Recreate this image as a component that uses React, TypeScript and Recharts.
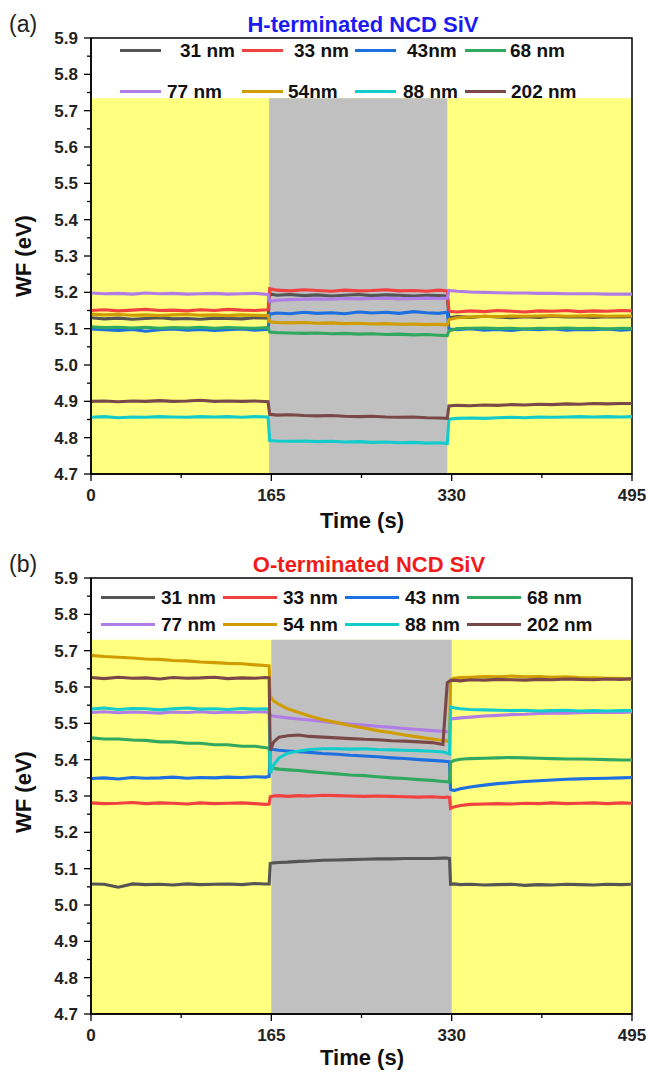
import React from 'react';
import { LineChart, Line, XAxis, YAxis, ReferenceArea } from 'recharts';

const FONT = '"Liberation Sans", Arial, Helvetica, sans-serif';

// ---------- shared axis values ----------
const xTicks = [0, 82.5, 165, 247.5, 330, 412.5, 495];
const yTicks = [4.7, 4.75, 4.8, 4.85, 4.9, 4.95, 5.0, 5.05, 5.1, 5.15, 5.2, 5.25, 5.3, 5.35, 5.4, 5.45, 5.5, 5.55, 5.6, 5.65, 5.7, 5.75, 5.8, 5.85, 5.9];
const seriesColors = ['#555555', '#f04040', '#1e6fe0', '#30a860', '#b07ce6', '#d09c00', '#12cccc', '#7a4848'];

// ---------- panel (a): H-terminated ----------
const hNames = ['31 nm', '33 nm', '43nm', '68 nm', '77 nm', '54nm', '88 nm', '202 nm'];
const hTime = [0, 12, 25, 38, 50, 63, 75, 88, 100, 113, 125, 138, 150, 162,
  163.5, 170, 182, 195, 207, 220, 232, 245, 257, 270, 282, 295, 307, 318, 326,
  327.5, 335, 347, 360, 372, 385, 397, 410, 422, 435, 447, 460, 472, 485, 495];
const h31 = [5.130, 5.127, 5.129, 5.126, 5.128, 5.130, 5.127, 5.128, 5.126, 5.129, 5.128, 5.127, 5.130, 5.129,
  5.196, 5.192, 5.194, 5.191, 5.193, 5.190, 5.192, 5.194, 5.191, 5.193, 5.192, 5.190, 5.192, 5.191, 5.190,
  5.130, 5.133, 5.131, 5.134, 5.132, 5.130, 5.133, 5.131, 5.134, 5.132, 5.133, 5.131, 5.133, 5.132, 5.133];
const h33 = [5.150, 5.152, 5.149, 5.151, 5.153, 5.150, 5.151, 5.149, 5.152, 5.150, 5.153, 5.151, 5.150, 5.152,
  5.210, 5.206, 5.204, 5.207, 5.205, 5.203, 5.206, 5.204, 5.205, 5.207, 5.204, 5.205, 5.203, 5.206, 5.204,
  5.148, 5.146, 5.149, 5.147, 5.150, 5.148, 5.146, 5.149, 5.148, 5.150, 5.147, 5.149, 5.148, 5.150, 5.149];
const h43 = [5.099, 5.097, 5.095, 5.098, 5.093, 5.097, 5.099, 5.096, 5.098, 5.095, 5.097, 5.099, 5.096, 5.098,
  5.140, 5.143, 5.141, 5.145, 5.142, 5.144, 5.141, 5.146, 5.143, 5.145, 5.142, 5.147, 5.144, 5.142, 5.145,
  5.099, 5.097, 5.100, 5.096, 5.098, 5.095, 5.099, 5.097, 5.100, 5.096, 5.098, 5.097, 5.099, 5.096, 5.098];
const h68 = [5.105, 5.103, 5.104, 5.102, 5.104, 5.101, 5.103, 5.102, 5.104, 5.101, 5.103, 5.102, 5.101, 5.103,
  5.091, 5.089, 5.088, 5.087, 5.088, 5.086, 5.087, 5.085, 5.086, 5.084, 5.085, 5.083, 5.084, 5.082, 5.081,
  5.094, 5.100, 5.101, 5.102, 5.100, 5.101, 5.099, 5.101, 5.100, 5.102, 5.100, 5.101, 5.099, 5.101, 5.100];
const h77 = [5.198, 5.196, 5.197, 5.195, 5.198, 5.196, 5.197, 5.195, 5.196, 5.197, 5.195, 5.196, 5.197, 5.194,
  5.175, 5.178, 5.180, 5.181, 5.182, 5.181, 5.183, 5.182, 5.183, 5.184, 5.182, 5.183, 5.184, 5.183, 5.184,
  5.205, 5.203, 5.201, 5.200, 5.199, 5.198, 5.198, 5.197, 5.197, 5.196, 5.196, 5.196, 5.195, 5.195, 5.195];
const h54 = [5.140, 5.138, 5.139, 5.137, 5.138, 5.136, 5.138, 5.139, 5.137, 5.138, 5.136, 5.138, 5.137, 5.136,
  5.119, 5.117, 5.116, 5.117, 5.115, 5.116, 5.114, 5.115, 5.113, 5.114, 5.112, 5.113, 5.111, 5.112, 5.110,
  5.125, 5.130, 5.132, 5.134, 5.133, 5.135, 5.134, 5.135, 5.136, 5.134, 5.135, 5.136, 5.134, 5.135, 5.135];
const h88 = [4.856, 4.858, 4.855, 4.857, 4.856, 4.858, 4.857, 4.856, 4.858, 4.857, 4.858, 4.856, 4.858, 4.857,
  4.792, 4.791, 4.790, 4.791, 4.789, 4.790, 4.788, 4.789, 4.787, 4.788, 4.786, 4.787, 4.785, 4.786, 4.784,
  4.851, 4.853, 4.854, 4.853, 4.855, 4.856, 4.855, 4.857, 4.856, 4.857, 4.858, 4.857, 4.858, 4.857, 4.858];
const h202 = [4.900, 4.901, 4.899, 4.901, 4.900, 4.902, 4.900, 4.901, 4.903, 4.900, 4.901, 4.900, 4.901, 4.899,
  4.864, 4.862, 4.863, 4.861, 4.860, 4.861, 4.859, 4.858, 4.859, 4.857, 4.856, 4.857, 4.855, 4.854, 4.853,
  4.887, 4.889, 4.888, 4.890, 4.889, 4.891, 4.890, 4.892, 4.891, 4.893, 4.892, 4.894, 4.893, 4.894, 4.894];
const hLight = [163, 326];
const hBgTop = 5.734;

// ---------- panel (b): O-terminated ----------
const oNames = ['31 nm', '33 nm', '43 nm', '68 nm', '77 nm', '54 nm', '88 nm', '202 nm'];
const oTime = [0, 12, 25, 38, 50, 63, 75, 88, 100, 113, 125, 138, 150, 160, 163,
  164, 167, 172, 180, 190, 200, 212, 225, 237, 250, 262, 275, 287, 300, 312, 322, 326, 328,
  329, 332, 338, 347, 360, 372, 385, 397, 410, 422, 435, 447, 460, 472, 485, 495];
const o31 = [5.058, 5.057, 5.049, 5.058, 5.056, 5.057, 5.055, 5.058, 5.056, 5.057, 5.058, 5.056, 5.059, 5.058, 5.058,
  5.114, 5.116, 5.117, 5.118, 5.120, 5.121, 5.123, 5.124, 5.125, 5.126, 5.127, 5.127, 5.128, 5.128, 5.128, 5.129, 5.129, 5.128,
  5.057, 5.058, 5.056, 5.057, 5.055, 5.056, 5.057, 5.054, 5.056, 5.055, 5.057, 5.056, 5.055, 5.057, 5.056, 5.057];
const o33 = [5.281, 5.279, 5.280, 5.282, 5.279, 5.281, 5.280, 5.278, 5.281, 5.279, 5.280, 5.281, 5.279, 5.277, 5.278,
  5.298, 5.300, 5.301, 5.299, 5.301, 5.300, 5.302, 5.301, 5.300, 5.299, 5.300, 5.299, 5.298, 5.297, 5.298, 5.296, 5.297, 5.296,
  5.266, 5.270, 5.274, 5.277, 5.278, 5.279, 5.278, 5.280, 5.279, 5.281, 5.279, 5.280, 5.281, 5.279, 5.281, 5.280];
const o43 = [5.348, 5.350, 5.347, 5.351, 5.349, 5.350, 5.352, 5.349, 5.351, 5.350, 5.352, 5.351, 5.353, 5.352, 5.354,
  5.430, 5.428, 5.426, 5.424, 5.422, 5.420, 5.417, 5.415, 5.412, 5.410, 5.408, 5.405, 5.403, 5.400, 5.398, 5.396, 5.395, 5.394,
  5.318, 5.315, 5.320, 5.325, 5.330, 5.334, 5.337, 5.340, 5.342, 5.344, 5.346, 5.347, 5.348, 5.349, 5.350, 5.351];
const o68 = [5.460, 5.457, 5.457, 5.454, 5.453, 5.449, 5.449, 5.445, 5.445, 5.441, 5.441, 5.437, 5.437, 5.433, 5.432,
  5.378, 5.376, 5.374, 5.372, 5.370, 5.367, 5.364, 5.361, 5.358, 5.356, 5.353, 5.350, 5.348, 5.345, 5.343, 5.340, 5.339, 5.338,
  5.392, 5.398, 5.401, 5.403, 5.404, 5.405, 5.406, 5.405, 5.404, 5.403, 5.402, 5.402, 5.401, 5.400, 5.399, 5.399];
const o77 = [5.530, 5.532, 5.529, 5.531, 5.530, 5.528, 5.531, 5.530, 5.532, 5.529, 5.531, 5.530, 5.532, 5.531, 5.530,
  5.522, 5.520, 5.518, 5.515, 5.512, 5.509, 5.505, 5.501, 5.498, 5.495, 5.492, 5.489, 5.486, 5.483, 5.480, 5.478, 5.477, 5.476,
  5.512, 5.513, 5.515, 5.517, 5.520, 5.522, 5.524, 5.525, 5.527, 5.528, 5.528, 5.529, 5.530, 5.530, 5.530, 5.531];
const o54 = [5.687, 5.684, 5.682, 5.680, 5.677, 5.676, 5.673, 5.672, 5.669, 5.667, 5.665, 5.664, 5.661, 5.659, 5.658,
  5.575, 5.562, 5.552, 5.540, 5.530, 5.520, 5.510, 5.502, 5.494, 5.487, 5.480, 5.474, 5.468, 5.462, 5.457, 5.453, 5.451, 5.450,
  5.620, 5.624, 5.626, 5.627, 5.629, 5.628, 5.630, 5.628, 5.629, 5.627, 5.628, 5.626, 5.625, 5.624, 5.624, 5.620];
const o88 = [5.539, 5.542, 5.538, 5.541, 5.540, 5.537, 5.540, 5.542, 5.539, 5.540, 5.538, 5.541, 5.539, 5.540, 5.538,
  5.362, 5.385, 5.405, 5.418, 5.424, 5.428, 5.430, 5.430, 5.429, 5.430, 5.428, 5.427, 5.426, 5.425, 5.423, 5.421, 5.418, 5.416,
  5.545, 5.543, 5.540, 5.538, 5.537, 5.536, 5.535, 5.536, 5.534, 5.535, 5.536, 5.534, 5.535, 5.534, 5.535, 5.535];
const o202 = [5.626, 5.623, 5.627, 5.624, 5.625, 5.622, 5.626, 5.624, 5.625, 5.627, 5.623, 5.625, 5.624, 5.626, 5.625,
  5.425, 5.448, 5.462, 5.466, 5.468, 5.464, 5.462, 5.460, 5.458, 5.456, 5.455, 5.452, 5.451, 5.449, 5.447, 5.442, 5.612, 5.616,
  5.618, 5.619, 5.617, 5.620, 5.619, 5.621, 5.620, 5.619, 5.621, 5.620, 5.622, 5.621, 5.620, 5.622, 5.621, 5.623];
const oLight = [165, 330];
const oBgTop = 5.73;

// ---------- layout (pixels, not data) ----------
const legendA = { rows: [50, 91], lineX: [120, 242, 355, 465], lineLen: 41, textX: [[180, 294, 407, 510], [167, 288, 403, 511]] };
const legendB = { rows: [57, 84], lineX: [101, 223, 345, 467], lineLen: 54, textX: [[161, 283, 405, 527], [161, 283, 405, 527]] };

function YTick(props: any) {
  const { x, y, payload } = props;
  const v = payload.value as number;
  const major = Math.abs(v * 10 - Math.round(v * 10)) < 1e-6;
  return (
    <g>
      <line x1={x} x2={x - (major ? 7 : 4)} y1={y} y2={y} stroke="#000" strokeWidth={1.3} />
      {major && (
        <text x={x - 13} y={y} dy="0.35em" textAnchor="end" fontSize={17} fontWeight="bold" fontFamily={FONT} fill="#222">
          {v.toFixed(1)}
        </text>
      )}
    </g>
  );
}

function XTick(props: any) {
  const { x, y, payload } = props;
  const v = payload.value as number;
  const major = v % 165 === 0;
  return (
    <g>
      <line x1={x} x2={x} y1={y} y2={y + (major ? 7 : 4)} stroke="#000" strokeWidth={1.3} />
      {major && (
        <text x={x} y={y + 21} dy="0.35em" textAnchor="middle" fontSize={17} fontWeight="bold" fontFamily={FONT} fill="#222">
          {v}
        </text>
      )}
    </g>
  );
}

const abs = (s: React.CSSProperties): React.CSSProperties => ({ position: 'absolute', lineHeight: 1, whiteSpace: 'nowrap', fontFamily: FONT, ...s });

function Panel(props: any) {
  const { top, height, times, values, names, title, titleColor, tag, light, bgTop, legend, titleX, wfY, timeY } = props;
  const rows = times.map((t: number, i: number) => {
    const r: any = { t };
    values.forEach((arr: number[], j: number) => { r['s' + j] = arr[i]; });
    return r;
  });
  return (
    <div style={{ position: 'absolute', left: 0, top, width: 648, height }}>
      <LineChart width={648} height={height} data={rows} margin={{ top: 38, right: 16, bottom: 0, left: 0 }}>
        <XAxis dataKey="t" type="number" domain={[0, 495]} ticks={xTicks} interval={0} tick={<XTick />} tickLine={false}
          tickSize={0} tickMargin={0} height={height - 474} axisLine={{ stroke: '#000', strokeWidth: 1.5 }} allowDataOverflow />
        <YAxis type="number" domain={[4.7, 5.9]} ticks={yTicks} interval={0} tick={<YTick />} tickLine={false}
          tickSize={0} tickMargin={0} width={91} axisLine={{ stroke: '#000', strokeWidth: 1.5 }} allowDataOverflow />
        <ReferenceArea x1={0} x2={495} y1={4.7} y2={bgTop} fill="#ffff80" fillOpacity={1} stroke="none" />
        <ReferenceArea x1={light[0]} x2={light[1]} y1={4.7} y2={bgTop} fill="#c0c0c0" fillOpacity={1} stroke="none" />
        {values.map((_: number[], j: number) => (
          <Line key={j} dataKey={'s' + j} type="linear" stroke={seriesColors[j]} strokeWidth={3.1} dot={false}
            activeDot={false} isAnimationActive={false} />
        ))}
        <ReferenceArea x1={0} x2={495} y1={4.7} y2={5.9} fill="none" stroke="#000" strokeWidth={1.5} />
      </LineChart>
      {/* titles */}
      <div style={abs({ left: 9, top: 13, fontSize: 23, color: '#222' })}>{tag}</div>
      <div style={abs({ left: titleX, top: 14, fontSize: 22, fontWeight: 'bold', color: titleColor, transform: 'translateX(-50%)' })}>{title}</div>
      <div style={abs({ left: 362, top: timeY, fontSize: 22, fontWeight: 'bold', color: '#111', transform: 'translate(-50%,-50%)' })}>Time (s)</div>
      <div style={abs({ left: 24, top: wfY, fontSize: 22, fontWeight: 'bold', color: '#111', transform: 'translate(-50%,-50%) rotate(-90deg)' })}>WF (eV)</div>
      {/* legend */}
      {names.map((n: string, k: number) => {
        const row = Math.floor(k / 4);
        const col = k % 4;
        const cy = legend.rows[row];
        return (
          <React.Fragment key={k}>
            <div style={{ position: 'absolute', left: legend.lineX[col], top: cy - 1.5, width: legend.lineLen, height: 3, background: seriesColors[k] }} />
            <div style={abs({ left: legend.textX[row][col], top: cy, fontSize: 19, fontWeight: 'bold', color: '#111', transform: 'translateY(-50%)' })}>{n}</div>
          </React.Fragment>
        );
      })}
    </div>
  );
}

export default function App() {
  return (
    <div style={{ position: 'absolute', left: 0, top: 0, width: 648, height: 1072, background: '#fff', overflow: 'hidden' }}>
      <Panel top={0} height={540} times={hTime} values={[h31, h33, h43, h68, h77, h54, h88, h202]} names={hNames}
        title="H-terminated NCD SiV" titleColor="#1c1cf0" tag="(a)" light={hLight} bgTop={hBgTop} legend={legendA}
        titleX={363} wfY={256} timeY={521} />
      <Panel top={540} height={532} times={oTime} values={[o31, o33, o43, o68, o77, o54, o88, o202]} names={oNames}
        title="O-terminated NCD SiV" titleColor="#f01c1c" tag="(b)" light={oLight} bgTop={oBgTop} legend={legendB}
        titleX={369} wfY={252} timeY={518} />
    </div>
  );
}
